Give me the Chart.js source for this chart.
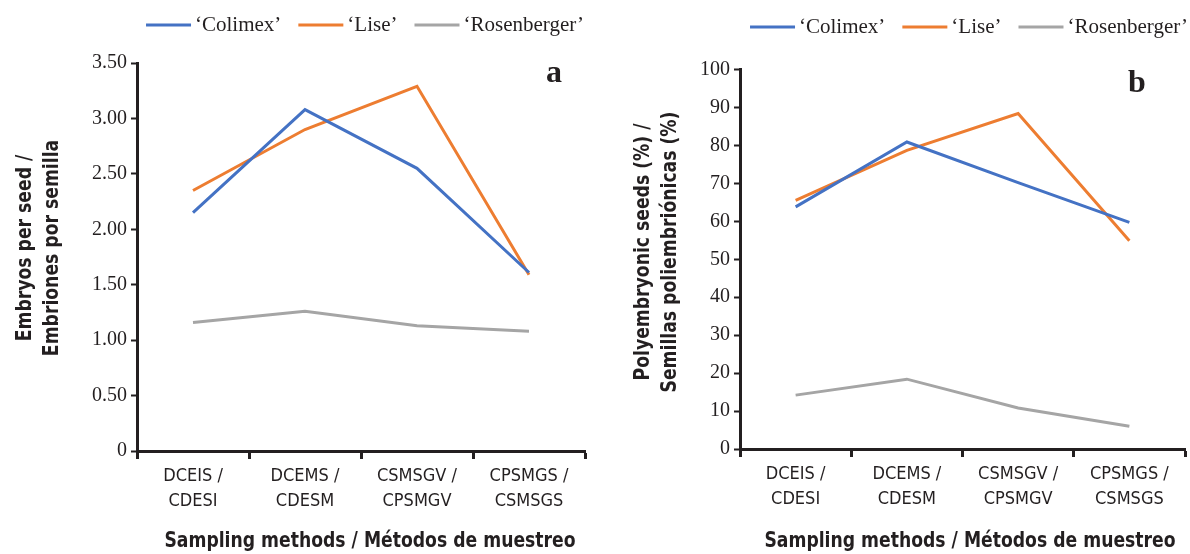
<!DOCTYPE html>
<html>
<head>
<meta charset="utf-8">
<script src="https://cdn.jsdelivr.net/npm/chart.js@4"></script>
<style>
  html, body { margin: 0; padding: 0; background: #fff; }
  .panel { position: absolute; top: 0; width: 595px; height: 554px; }
  #wrapA { left: 0; }
  #wrapB { left: 595px; }
</style>
</head>
<body>
<div class="panel" id="wrapA"><canvas id="chartA"></canvas></div>
<div class="panel" id="wrapB"><canvas id="chartB"></canvas></div>
<script>
// categories (sampling methods), shared by both panels
var categories = [['DCEIS /', 'CDESI'], ['DCEMS /', 'CDESM'], ['CSMSGV /', 'CPSMGV'], ['CPSMGS /', 'CSMSGS']];
var cultivars = ['\u2018Colimex\u2019', '\u2018Lise\u2019', '\u2018Rosenberger\u2019'];

// panel a: embryos per seed
var embryosColimex = [2.15, 3.08, 2.55, 1.61];
var embryosLise = [2.35, 2.90, 3.29, 1.59];
var embryosRosenberger = [1.16, 1.26, 1.13, 1.08];

// panel b: polyembryonic seeds (%)
var polyColimex = [63.8, 80.9, 70.2, 59.7];
var polyLise = [65.5, 78.7, 88.4, 54.9];
var polyRosenberger = [14.2, 18.4, 10.8, 6.0];

var INK = '#231f20';
var COLORS = ['#4472c4', '#ed7d31', '#a5a5a5'];
var SERIF = '"Liberation Serif", "Times New Roman", serif';
var NARROW = '"Liberation Sans Narrow", "DejaVu Sans Condensed", "Roboto Condensed", "Arial Narrow", sans-serif';
var SQUEEZE = 0.87; // the printed figure uses a condensed face

/** Legend row, axis titles and the panel letter, drawn after the chart. */
var panelText = {
  id: 'panelText',
  afterDraw: function (chart, args, o) {
    var c = chart.ctx;
    c.save();
    c.fillStyle = INK;
    c.textBaseline = 'middle';

    // legend, right-aligned like the original
    c.font = '21px ' + SERIF;
    var sets = chart.data.datasets, x = o.legendRight;
    for (var i = sets.length - 1; i >= 0; i--) {
      var w = c.measureText(sets[i].label).width;
      c.textAlign = 'left';
      c.fillStyle = INK;
      c.fillText(sets[i].label, x - w, o.legendY);
      x -= w + 4;
      c.strokeStyle = sets[i].borderColor;
      c.lineWidth = 3;
      c.beginPath(); c.moveTo(x - 45, o.legendY); c.lineTo(x, o.legendY); c.stroke();
      x -= 45 + 17;
    }

    c.textAlign = 'center';
    c.font = 'bold 22px ' + NARROW;
    o.yTitle.forEach(function (line, i) {
      c.save();
      c.translate(o.yX[i], o.yMid);
      c.rotate(-Math.PI / 2);
      c.scale(SQUEEZE, 1);
      c.fillText(line, 0, 0);
      c.restore();
    });
    c.save();
    c.translate(o.xX, o.xY);
    c.scale(SQUEEZE, 1);
    c.fillText(o.xTitle, 0, 0);
    c.restore();

    c.font = 'bold 32px ' + SERIF;
    c.textBaseline = 'alphabetic';
    c.fillText(o.letter, o.letterX, o.letterY);
    c.restore();
  }
};

function datasets(values) {
  return values.map(function (v, i) {
    return {
      label: cultivars[i], data: v,
      borderColor: COLORS[i], backgroundColor: COLORS[i],
      borderWidth: 3, pointRadius: 0, tension: 0
    };
  });
}

function panel(id, values, o) {
  return new Chart(document.getElementById(id).getContext('2d'), {
    type: 'line',
    data: { labels: categories, datasets: datasets(values) },
    plugins: [panelText],
    options: {
      responsive: true, maintainAspectRatio: false, animation: false,
      layout: { padding: o.padding },
      plugins: {
        tooltip: { enabled: false },
        legend: { display: false },
        panelText: o.text
      },
      scales: {
        x: {
          type: 'category', offset: true,
          grid: { offset: true, drawOnChartArea: false, tickLength: 8, tickWidth: 3, tickColor: INK },
          border: { color: INK, width: 3 },
          ticks: { color: INK, autoSkip: false, maxRotation: 0, padding: 5,
            font: { family: NARROW, size: 18, lineHeight: 25 / 18 } },
          afterFit: function (s) { s.height = o.xHeight; }
        },
        y: {
          min: 0, max: o.yMax,
          grid: { drawOnChartArea: false, tickLength: 6, tickWidth: 2, tickColor: INK },
          border: { color: INK, width: 3 },
          ticks: { color: INK, stepSize: o.yStep, padding: 4,
            font: { family: SERIF, size: 20 },
            callback: o.yFormat },
          afterFit: function (s) { s.width = o.yWidth; }
        }
      }
    }
  });
}

panel('chartA', [embryosColimex, embryosLise, embryosRosenberger], {
  padding: { top: 63, right: 10, bottom: 0, left: 0 },
  xHeight: 103, yWidth: 137, yMax: 3.5, yStep: 0.5,
  yFormat: function (v) { return v === 0 ? '0' : Number(v).toFixed(2); },
  text: {
    legendRight: 584, legendY: 25,
    yTitle: ['Embryos per seed /', 'Embriones por semilla'], yX: [25, 52], yMid: 248,
    xTitle: 'Sampling methods / M\u00e9todos de muestreo', xX: 370, xY: 541,
    letter: 'a', letterX: 554, letterY: 82
  }
});

panel('chartB', [polyColimex, polyLise, polyRosenberger], {
  padding: { top: 69.5, right: 5, bottom: 0, left: 0 },
  xHeight: 105, yWidth: 145, yMax: 100, yStep: 10,
  yFormat: function (v) { return v; },
  text: {
    legendRight: 593, legendY: 27,
    yTitle: ['Polyembryonic seeds (%) /', 'Semillas poliembri\u00f3nicas (%)'], yX: [48, 75], yMid: 252,
    xTitle: 'Sampling methods / M\u00e9todos de muestreo', xX: 375, xY: 541,
    letter: 'b', letterX: 542, letterY: 92
  }
});
</script>
</body>
</html>
